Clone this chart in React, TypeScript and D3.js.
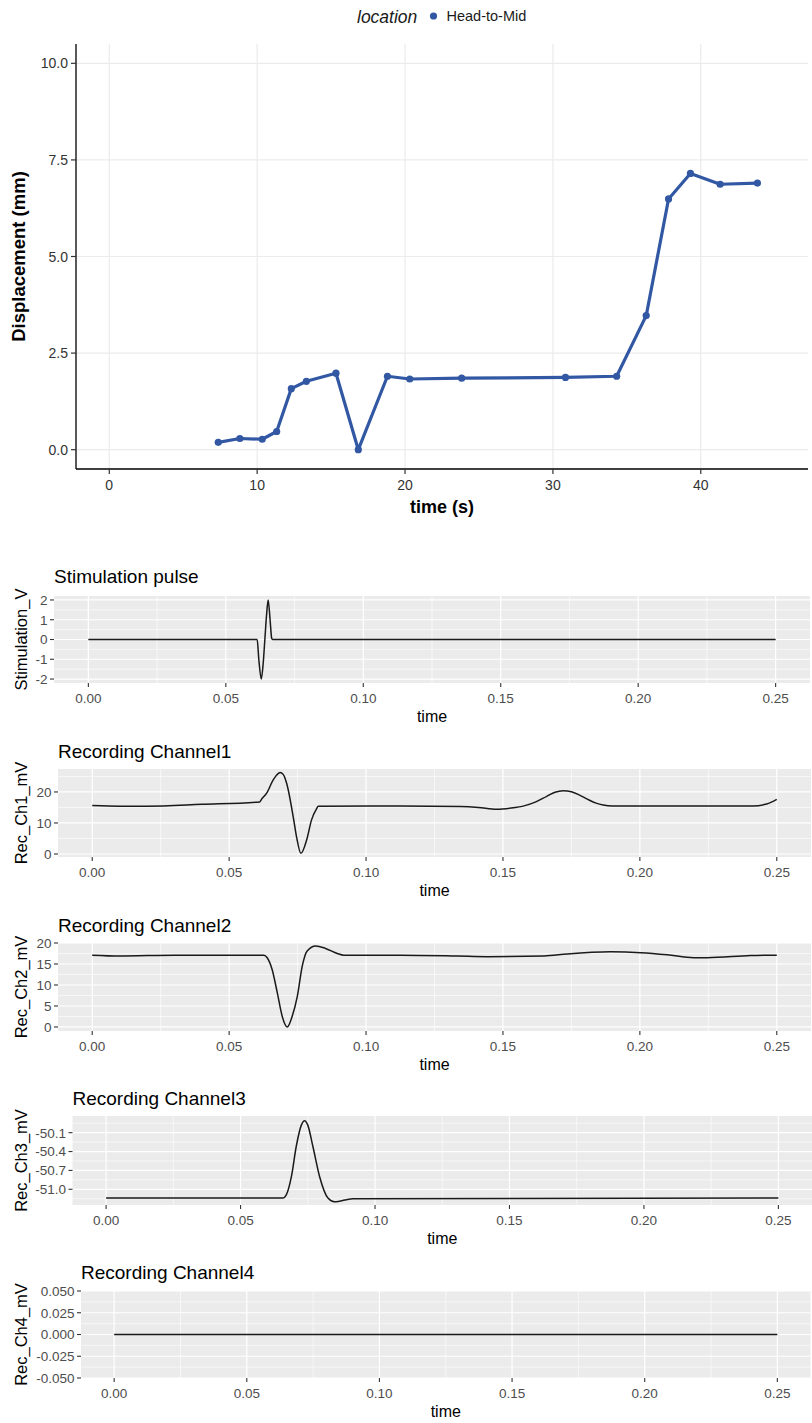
import React from "react";
import * as d3 from "d3";

const FONT = "'Liberation Sans', Arial, Helvetica, sans-serif";

// top panel: displacement over time
const dispTime = [7.37, 8.83, 10.34, 11.32, 12.31, 13.33, 15.33, 16.84, 18.81, 20.32, 23.83, 30.85, 34.31, 36.31, 37.82, 39.3, 41.31, 43.83];
const dispMm = [0.19, 0.29, 0.27, 0.47, 1.58, 1.77, 1.98, 0.0, 1.9, 1.83, 1.85, 1.87, 1.9, 3.47, 6.49, 7.15, 6.87, 6.9];
const dispXTicks = [0, 10, 20, 30, 40];
const dispYTicks = [0, 2.5, 5, 7.5, 10];
const legendLabel = "Head-to-Mid";

// traces (time in s)
const stimTime = [0, 0.0614, 0.062, 0.0629, 0.0636, 0.0642, 0.0648, 0.0654, 0.0661, 0.0667, 0.067, 0.25];
const stimV = [0, 0, -1.0, -2.0, -1.2, 0, 1.2, 2.0, 1.0, 0.05, 0, 0];

const ch1Time = [0, 0.01, 0.02, 0.04, 0.0612, 0.0618, 0.0637, 0.0661, 0.068, 0.0686, 0.0698, 0.071, 0.0734, 0.0746, 0.0762, 0.0783, 0.0801, 0.082, 0.0825, 0.1124, 0.1344, 0.141, 0.1477, 0.153, 0.158, 0.162, 0.166, 0.169, 0.172, 0.175, 0.178, 0.181, 0.184, 0.1866, 0.19, 0.2414, 0.2463, 0.25];
const ch1mV = [15.6, 15.4, 15.4, 16.0, 16.8, 17.6, 19.6, 23.9, 26.0, 26.3, 25.6, 22.8, 12.0, 5.6, 0.2, 4.5, 11.0, 14.7, 15.4, 15.5, 15.3, 15.0, 14.4, 14.8, 15.6, 16.8, 18.6, 19.9, 20.4, 20.1, 19.0, 17.6, 16.4, 15.8, 15.5, 15.5, 16.1, 17.6];

const ch2Time = [0, 0.01, 0.03, 0.0627, 0.0639, 0.0657, 0.0676, 0.0694, 0.0712, 0.073, 0.0749, 0.0767, 0.0785, 0.0816, 0.0852, 0.0895, 0.0919, 0.1126, 0.1333, 0.1443, 0.165, 0.1735, 0.1893, 0.2003, 0.21, 0.2197, 0.2246, 0.2404, 0.25];
const ch2mV = [17.1, 16.9, 17.1, 17.1, 16.5, 13.7, 8.1, 2.5, 0.0, 2.5, 7.3, 14.5, 18.1, 19.3, 18.7, 17.5, 17.1, 17.1, 16.9, 16.75, 16.9, 17.4, 17.9, 17.7, 17.2, 16.5, 16.5, 17.0, 17.1];

const ch3Time = [0, 0.0658, 0.067, 0.0689, 0.0707, 0.0726, 0.0738, 0.075, 0.0769, 0.0794, 0.0825, 0.0849, 0.0917, 0.25];
const ch3mV = [-51.14, -51.14, -51.09, -50.8, -50.32, -49.98, -49.91, -49.98, -50.32, -50.8, -51.14, -51.2, -51.15, -51.14];

const ch4Time = [0, 0.25];
const ch4mV = [0, 0];

const timeTicks = [0, 0.05, 0.1, 0.15, 0.2, 0.25];
const panelTitles = ["Stimulation pulse", "Recording Channel1", "Recording Channel2", "Recording Channel3", "Recording Channel4"];
const panelYLabels = ["Stimulation_V", "Rec_Ch1_mV", "Rec_Ch2_mV", "Rec_Ch3_mV", "Rec_Ch4_mV"];
const panelYTicks = [
  [-2, -1, 0, 1, 2],
  [0, 10, 20],
  [0, 5, 10, 15, 20],
  [-51.0, -50.7, -50.4, -50.1],
  [-0.05, -0.025, 0, 0.025, 0.05],
];
const panelSeries = [
  [stimTime, stimV],
  [ch1Time, ch1mV],
  [ch2Time, ch2mV],
  [ch3Time, ch3mV],
  [ch4Time, ch4mV],
];

// layout of the trace panels
const boxes = [
  { left: 54, right: 810, top: 596, bottom: 683, yDomain: [-2.2, 2.2], fmt: "d", titleY: 583 },
  { left: 58, right: 811, top: 769, bottom: 857, yDomain: [-0.97, 27.4], fmt: "d", titleY: 757.5 },
  { left: 58, right: 811, top: 943, bottom: 1031, yDomain: [-0.96, 20.0], fmt: "d", titleY: 931.5 },
  { left: 72.5, right: 812, top: 1116, bottom: 1205, yDomain: [-51.25, -49.835], fmt: ".1f", titleY: 1105 },
  { left: 81, right: 810.5, top: 1291, bottom: 1378, yDomain: [-0.05, 0.05], fmt: ".3f", titleY: 1278.5 },
];

const locale = d3.formatLocale({ decimal: ".", thousands: ",", grouping: [3], currency: ["$", ""], minus: "-" });

const midpoints = (ticks: number[]) => {
  const step = ticks[1] - ticks[0];
  const out = ticks.slice(0, -1).map((t, i) => (t + ticks[i + 1]) / 2);
  out.unshift(ticks[0] - step / 2);
  out.push(ticks[ticks.length - 1] + step / 2);
  return out;
};

const DisplacementChart = () => {
  const left = 76, right = 808, top = 44, bottom = 469;
  const x = d3.scaleLinear().domain([-2.25, 47.25]).range([left, right]);
  const y = d3.scaleLinear().domain([-0.5, 10.5]).range([bottom, top]);
  const pts = dispTime.map((t, i) => [t, dispMm[i]] as [number, number]);
  const line = d3.line<[number, number]>().x((d) => x(d[0])).y((d) => y(d[1]));
  const blue = "#3258a4";
  const fy = locale.format(".1f");
  return (
    <g>
      {/* legend */}
      <text x={357} y={22.5} fontSize={17.5} fontStyle="italic" fill="#1a1a1a">location</text>
      <circle cx={433.5} cy={16} r={3.6} fill={blue} />
      <text x={446.5} y={21} fontSize={14.5} fill="#1a1a1a">{legendLabel}</text>

      {/* grid */}
      {dispYTicks.map((t) => (
        <line key={"gy" + t} x1={left} x2={right} y1={y(t)} y2={y(t)} stroke="#ebebeb" strokeWidth={1.2} />
      ))}
      {dispXTicks.map((t) => (
        <line key={"gx" + t} x1={x(t)} x2={x(t)} y1={top} y2={bottom} stroke="#ebebeb" strokeWidth={1.2} />
      ))}

      {/* axes */}
      <line x1={left} x2={left} y1={top} y2={bottom} stroke="#000" strokeWidth={1.3} />
      <line x1={left} x2={right} y1={bottom} y2={bottom} stroke="#000" strokeWidth={1.3} />
      {dispYTicks.map((t) => (
        <g key={"ty" + t}>
          <line x1={left - 5} x2={left} y1={y(t)} y2={y(t)} stroke="#333" strokeWidth={1.2} />
          <text x={left - 8} y={y(t)} dy="0.36em" textAnchor="end" fontSize={14} fill="#333">{fy(t)}</text>
        </g>
      ))}
      {dispXTicks.map((t) => (
        <g key={"tx" + t}>
          <line x1={x(t)} x2={x(t)} y1={bottom} y2={bottom + 5} stroke="#333" strokeWidth={1.2} />
          <text x={x(t)} y={490} textAnchor="middle" fontSize={14} fill="#333">{t}</text>
        </g>
      ))}
      <text x={(left + right) / 2} y={513} textAnchor="middle" fontSize={18} fontWeight="bold" fill="#000">time (s)</text>
      <text transform={`translate(25,${(top + bottom) / 2}) rotate(-90)`} textAnchor="middle" fontSize={18.5} fontWeight="bold" fill="#000">Displacement (mm)</text>

      {/* series */}
      <path d={line(pts) || ""} fill="none" stroke={blue} strokeWidth={3.2} strokeLinejoin="round" />
      {pts.map((d, i) => (
        <circle key={"p" + i} cx={x(d[0])} cy={y(d[1])} r={3.6} fill={blue} />
      ))}
    </g>
  );
};

const TracePanel = ({ idx }: { idx: number }) => {
  const b = boxes[idx];
  const x = d3.scaleLinear().domain([-0.0125, 0.2625]).range([b.left, b.right]);
  const y = d3.scaleLinear().domain(b.yDomain).range([b.bottom, b.top]);
  const yTicks = panelYTicks[idx];
  const yMinor = midpoints(yTicks).filter((t) => y(t) >= b.top && y(t) <= b.bottom);
  const xMinor = midpoints(timeTicks).filter((t) => x(t) >= b.left && x(t) <= b.right);
  const [ts, vs] = panelSeries[idx];
  const pts = ts.map((t, i) => [t, vs[i]] as [number, number]);
  const line = d3.line<[number, number]>().x((d) => x(d[0])).y((d) => y(d[1])).curve(d3.curveMonotoneX);
  const fy = locale.format(b.fmt);
  const fx = locale.format(".2f");
  return (
    <g>
      <text x={b.left} y={b.titleY} fontSize={19} fill="#000">{panelTitles[idx]}</text>
      <rect x={b.left} y={b.top} width={b.right - b.left} height={b.bottom - b.top} fill="#ebebeb" />
      {yMinor.map((t) => (
        <line key={"my" + t} x1={b.left} x2={b.right} y1={y(t)} y2={y(t)} stroke="#fff" strokeWidth={0.6} />
      ))}
      {xMinor.map((t) => (
        <line key={"mx" + t} x1={x(t)} x2={x(t)} y1={b.top} y2={b.bottom} stroke="#fff" strokeWidth={0.6} />
      ))}
      {yTicks.map((t) => (
        <line key={"gy" + t} x1={b.left} x2={b.right} y1={y(t)} y2={y(t)} stroke="#fff" strokeWidth={1.2} />
      ))}
      {timeTicks.map((t) => (
        <line key={"gx" + t} x1={x(t)} x2={x(t)} y1={b.top} y2={b.bottom} stroke="#fff" strokeWidth={1.2} />
      ))}
      <path d={line(pts) || ""} fill="none" stroke="#1a1a1a" strokeWidth={1.5} />
      {yTicks.map((t) => (
        <g key={"ty" + t}>
          <line x1={b.left - 4} x2={b.left} y1={y(t)} y2={y(t)} stroke="#333" strokeWidth={1.1} />
          <text x={b.left - 6.5} y={y(t)} dy="0.36em" textAnchor="end" fontSize={13.5} fill="#4d4d4d">{fy(t)}</text>
        </g>
      ))}
      {timeTicks.map((t) => (
        <g key={"tx" + t}>
          <line x1={x(t)} x2={x(t)} y1={b.bottom} y2={b.bottom + 4} stroke="#333" strokeWidth={1.1} />
          <text x={x(t)} y={b.bottom + 19.5} textAnchor="middle" fontSize={13.5} fill="#4d4d4d">{fx(t)}</text>
        </g>
      ))}
      <text x={(b.left + b.right) / 2} y={b.bottom + 39} textAnchor="middle" fontSize={16} fill="#000">time</text>
      <text transform={`translate(27,${(b.top + b.bottom) / 2}) rotate(-90)`} textAnchor="middle" fontSize={16.5} fill="#000">{panelYLabels[idx]}</text>
    </g>
  );
};

export default function App() {
  return (
    <svg
      width={812}
      height={1423}
      style={{ position: "absolute", left: 0, top: 0, background: "#fff" }}
      fontFamily={FONT}
    >
      <rect width={812} height={1423} fill="#fff" />
      <DisplacementChart />
      {boxes.map((_, i) => (
        <TracePanel key={i} idx={i} />
      ))}
    </svg>
  );
}
